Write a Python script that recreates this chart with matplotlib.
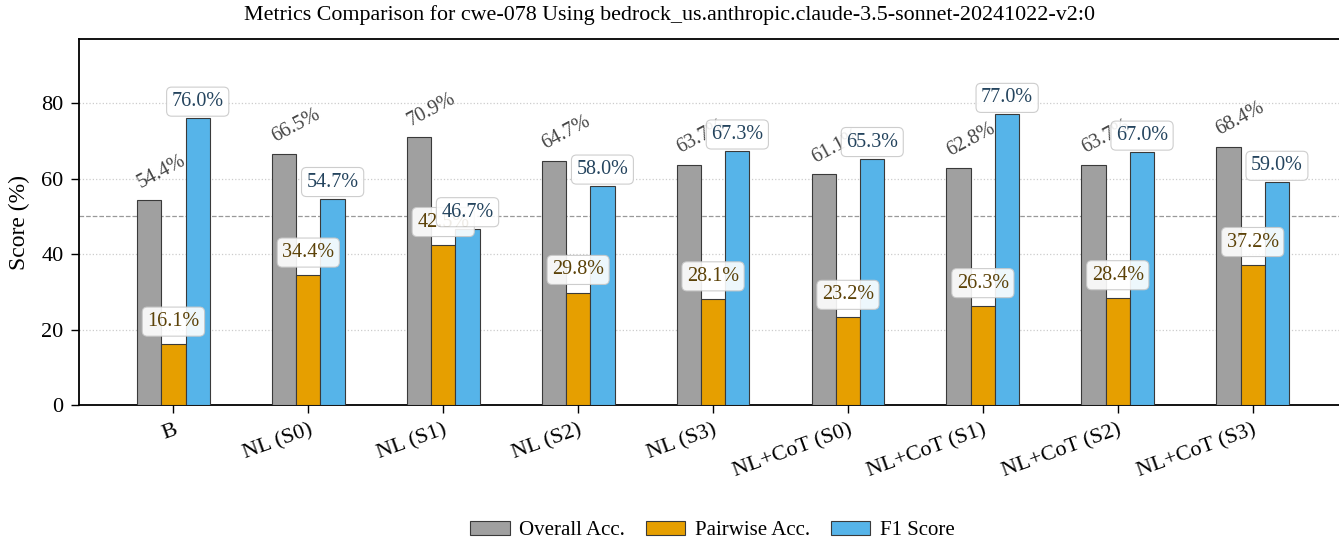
import numpy as np
import matplotlib
matplotlib.use("Agg")
import matplotlib.pyplot as plt

plt.rcParams['font.family'] = ['Liberation Serif', 'DejaVu Serif']

# Data
categories = ['B', 'NL (S0)', 'NL (S1)', 'NL (S2)', 'NL (S3)',
              'NL+CoT (S0)', 'NL+CoT (S1)', 'NL+CoT (S2)', 'NL+CoT (S3)']
overall_acc = [54.4, 66.5, 70.9, 64.7, 63.7, 61.1, 62.8, 63.7, 68.4]
pairwise_acc = [16.1, 34.4, 42.5, 29.8, 28.1, 23.2, 26.3, 28.4, 37.2]
f1_score = [76.0, 54.7, 46.7, 58.0, 67.3, 65.3, 77.0, 67.0, 59.0]
series_names = ['Overall Acc.', 'Pairwise Acc.', 'F1 Score']

title = 'Metrics Comparison for cwe-078 Using bedrock_us.anthropic.claude-3.5-sonnet-20241022-v2:0'

colors = ['#A0A0A0', '#E69F00', '#56B4E9']
text_colors = ['#444444', '#5C4208', '#24445E']

fig = plt.figure(figsize=(13.39, 5.39), dpi=100)
ax = fig.add_axes([0.059, 0.2486, 0.941, 0.679])

x = np.arange(len(categories))
width = 0.18

bars_o = ax.bar(x - width, overall_acc, width, color=colors[0], edgecolor='#3a3a3a',
                linewidth=0.8, label=series_names[0], zorder=3)
bars_p = ax.bar(x, pairwise_acc, width, color=colors[1], edgecolor='#3a3a3a',
                linewidth=0.8, label=series_names[1], zorder=3)
bars_f = ax.bar(x + width, f1_score, width, color=colors[2], edgecolor='#3a3a3a',
                linewidth=0.8, label=series_names[2], zorder=3)

# Overall accuracy labels: rotated, no box
for b, v in zip(bars_o, overall_acc):
    ax.text(b.get_x() + b.get_width(), v + 2.0, f'{v:.1f}%', rotation=28,
            ha='center', va='bottom', fontsize=14.5, color=text_colors[0], zorder=5)

box = dict(boxstyle='round,pad=0.25', facecolor='white', edgecolor='#c8c8c8',
           linewidth=0.8, alpha=0.9)

for b, v in zip(bars_p, pairwise_acc):
    ax.text(b.get_x() + b.get_width() / 2, v + 6.0, f'{v:.1f}%', ha='center',
            va='center', fontsize=14.5, color=text_colors[1], bbox=box, zorder=6)

for b, v in zip(bars_f, f1_score):
    ax.text(b.get_x() + b.get_width() / 2, v + 4.4, f'{v:.1f}%', ha='center',
            va='center', fontsize=14.5, color=text_colors[2], bbox=box, zorder=7)

ax.axhline(50, color='#999999', linestyle='--', linewidth=0.9, zorder=1)
ax.yaxis.grid(True, linestyle=':', color='#cccccc', linewidth=0.9, zorder=0)
ax.set_axisbelow(True)

ax.set_xlim(-0.70, 8.64)
ax.set_ylim(0, 97)
ax.set_yticks([0, 20, 40, 60, 80])
ax.set_xticks(x)
ax.set_xticklabels(categories, rotation=20, ha='right', rotation_mode='anchor')
ax.tick_params(axis='both', labelsize=16, direction='out', length=6, width=1.0, pad=5)
ax.set_ylabel('Score (%)', fontsize=17)
ax.yaxis.set_label_coords(-0.039, 0.5)

# title is centred on the whole figure
fig.suptitle(title, fontsize=15.8, x=0.5, y=0.99)

ax.spines['right'].set_visible(False)
for s in ['left', 'bottom', 'top']:
    ax.spines[s].set_linewidth(1.3)

handles, labels = ax.get_legend_handles_labels()
fig.legend(handles, labels, loc='lower center', bbox_to_anchor=(0.532, -0.037),
           ncol=3, frameon=False, fontsize=15, handlelength=1.9, handletextpad=0.45,
           columnspacing=1.0)

fig.savefig('out.png', dpi=100)
